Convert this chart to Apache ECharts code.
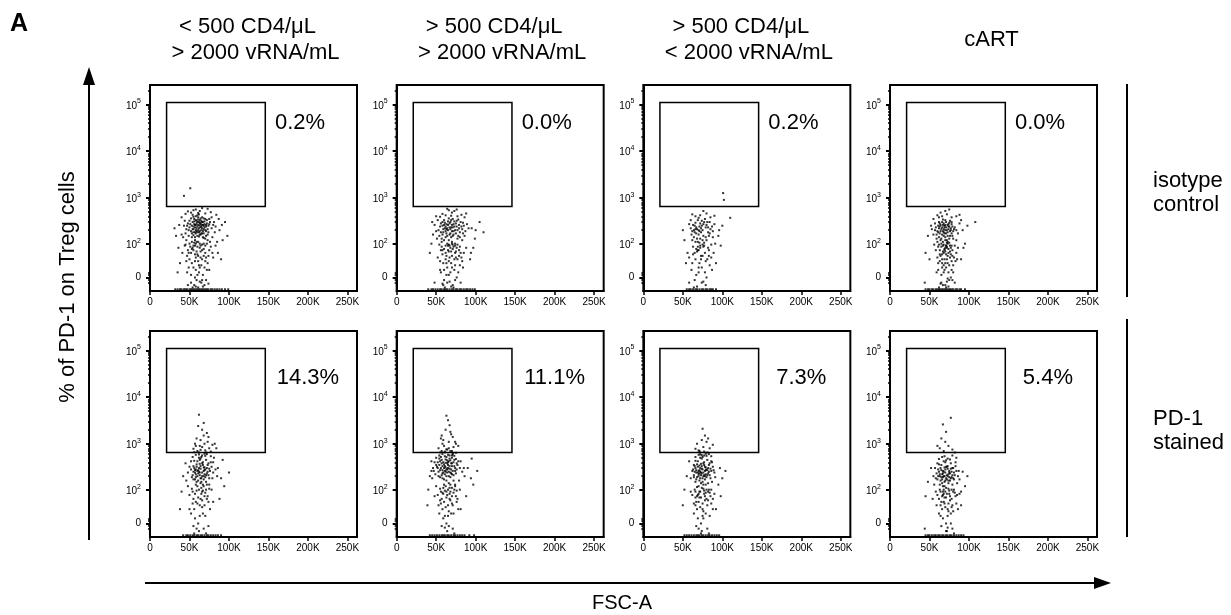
<!DOCTYPE html>
<html><head><meta charset="utf-8">
<script src="https://cdn.jsdelivr.net/npm/echarts@6.0.0/dist/echarts.min.js"></script>
<style>html,body{margin:0;padding:0;background:#fff}#c{width:1231px;height:615px}</style>
</head><body><div id="c"></div>
<script>
// ---------- data ----------
const columnTitles = [['< 500 CD4/μL', '> 2000 vRNA/mL'], ['> 500 CD4/μL', '> 2000 vRNA/mL'], ['> 500 CD4/μL', '< 2000 vRNA/mL'], ['cART']];
const rowLabels = [['isotype', 'control'], ['PD-1', 'stained']];
const yAxisTitle = '% of PD-1 on Treg cells';
const xAxisTitle = 'FSC-A';
const pctLabels = ['0.2%', '0.0%', '0.2%', '0.0%', '14.3%', '11.1%', '7.3%', '5.4%'];
const pctLabelFSC = [190000, 200000];     // per row
const pctLabelPD1 = [40700, 26300];       // per row
const fscTicks = [0, 50000, 100000, 150000, 200000, 250000];
const fscTickLabels = ['0', '50K', '100K', '150K', '200K', '250K'];
const fscRange = [0, 262144];
const pd1Ticks = [0, 100, 1000, 10000, 100000];
const pd1TickLabels = ['0', '10^2', '10^3', '10^4', '10^5'];
const pd1MinorTicks = [-10, -5, 5, 10, 200, 300, 400, 500, 600, 700, 800, 900, 2000, 3000, 4000, 5000, 6000, 7000, 8000, 9000, 20000, 30000, 40000, 50000, 60000, 70000, 80000, 90000, 200000];
const pd1Range = [-28, 262144];
const gateFSC = [21000, 146000];
const gatePD1 = [650, 110000];

// events: pairs of [FSC-A (K), PD-1 fluorescence]
const t1 = [55,210,62,180,68,250,59,320,71,150,64,290,50,230,57,140,66,380,73,210,
61,260,53,170,69,310,58,200,75,270,63,160,56,350,67,190,60,420,72,330,
48,280,65,240,54,300,70,130,62,220,58,260,66,170,52,190,74,180,61,340,
57,230,68,210,63,280,55,155,71,240,59,190,64,360,50,320,67,140,60,150,
76,300,53,250,65,200,58,400,69,270,62,300,56,270,73,160,61,200,66,260,
49,200,70,350,57,180,64,230,55,390,68,170,60,240,63,190,78,220,52,360,
59,280,67,300,54,210,71,190,62,145,65,320,58,170,74,250,56,310,69,230,
47,250,61,380,64,160,72,280,57,260,66,220,60,300,53,140,68,360,63,250,
80,260,51,270,59,220,70,200,62,440,55,240,67,260,45,170,75,350,58,330,
64,270,60,180,82,180,54,430,66,300,71,260,57,120,63,330,49,150,68,135,
52,480,63,520,70,460,58,560,45,450,77,490,66,600,55,540,61,470,84,430,48,510,73,580,
51,1600,43,1100,
58,100,63,80,52,60,70,90,66,40,55,20,61,110,48,70,74,50,57,0,
65,-10,53,30,68,75,60,55,45,95,72,15,59,-5,64,65,50,40,77,85,
56,105,62,25,69,-15,54,80,47,10,66,95,58,45,73,30,61,-20,55,70,
41,60,67,5,63,100,52,-10,70,60,57,35,80,45,60,85,49,20,65,25,
44,90,71,-5,59,65,53,110,68,50,62,10,75,70,56,-15,64,45,51,85,
38,30,66,70,58,15,72,100,54,-20,61,35,47,50,69,20,63,-8,57,90,
33,150,88,200,92,120,36,80,95,300,86,60,40,380,90,40,35,10,98,150,31,220,87,350,
42,140,46,210,44,320,79,140,83,240,85,110,78,380,46,120,43,250,81,300,
50,100,76,110,73,120,49,60,60,5,67,-18,53,75,71,45,57,55,63,20,
46,35,75,15,79,60,66,-5,52,5,59,110,68,100,55,90,61,50,70,35,
64,90,48,-15,58,-18,74,-12,83,90,40,160,37,260,91,260,55,180,65,170,
32,-24,38,-24,43,-24,47,-24,52,-24,56,-24,60,-24,64,-24,68,-24,72,-24,77,-24,82,-24,88,-24,95,-24,99,-24,35,-24,50,-24,62,-24,74,-24,85,-24,
40,-24,45,-24,54,-24,58,-24,66,-24,70,-24,79,-24,91,-24];

const t2 = [65,200,72,160,58,250,79,220,68,300,62,140,75,280,70,190,84,170,60,330,
66,120,73,240,56,180,81,300,69,230,63,270,77,130,59,210,71,350,67,160,
85,250,61,290,74,200,54,150,80,180,64,220,70,110,76,320,58,300,68,170,
72,270,62,190,78,150,66,360,55,240,83,210,69,140,60,260,74,100,65,310,
71,230,57,130,79,260,63,170,87,190,67,280,61,220,75,170,53,200,70,260,
64,150,82,240,59,180,73,310,68,210,77,200,62,240,66,95,56,280,80,140,
72,190,69,330,60,120,76,240,65,260,58,160,84,290,71,150,63,210,67,230,
62,420,70,480,77,400,58,450,66,540,82,430,73,520,55,390,88,460,64,580,69,410,76,560,
68,80,74,60,62,40,79,70,70,20,65,90,58,55,76,0,72,85,64,-10,
82,45,60,75,69,30,77,95,55,15,71,-15,66,65,80,25,63,50,74,-5,
57,85,68,10,85,60,61,-20,73,40,67,90,59,30,78,10,65,70,70,50,
52,45,76,80,63,5,81,-10,69,65,56,70,74,25,62,90,72,-20,66,35,
88,80,60,15,79,50,67,-8,54,95,71,75,64,20,83,35,58,-12,75,45,
46,160,95,220,99,130,42,60,93,40,105,300,45,300,97,80,48,-10,110,180,
50,190,48,260,52,330,86,150,89,270,91,220,57,110,83,120,51,130,78,340,
60,-5,66,5,71,95,63,30,75,65,58,70,80,85,69,-18,55,35,73,15,
62,60,77,40,67,45,84,20,59,-15,64,100,70,100,56,10,81,60,74,90,
44,100,94,60,100,200,50,400,86,380,
40,-24,46,-24,52,-24,57,-24,62,-24,67,-24,72,-24,77,-24,82,-24,88,-24,93,-24,99,-24,55,-24,70,-24,85,-24,
44,-24,49,-24,60,-24,64,-24,75,-24,80,-24,90,-24,96,-24];

const t3 = [70,200,76,150,65,250,82,180,72,280,68,130,79,230,62,190,74,320,85,210,
67,170,71,240,77,300,64,140,80,260,69,110,73,180,60,220,83,150,66,290,
75,200,70,160,78,350,63,260,87,240,68,210,72,130,81,300,65,180,74,250,
61,160,76,270,69,330,84,170,67,230,71,190,79,140,73,220,58,270,88,190,
66,210,75,120,70,370,82,230,64,200,
72,420,80,460,66,400,90,410,76,520,62,440,85,380,110,370,100,250,
101,1260,102,900,
72,80,78,60,66,40,83,70,70,20,75,95,63,55,80,0,69,85,74,-10,
86,45,67,75,71,30,77,90,61,15,79,-15,68,65,84,25,73,50,65,-5,
76,85,70,10,89,60,64,-20,81,40,72,90,62,30,78,10,69,70,75,50,
58,45,82,80,67,5,
52,120,95,150,56,60,92,30,50,200,98,90,
62,120,88,140,90,270,60,330,84,300,66,110,77,105,71,105,80,120,86,95,
68,-18,74,20,79,35,65,60,83,50,70,70,76,-8,87,15,63,85,73,40,
58,-10,91,100,96,200,54,30,
55,-24,60,-24,66,-24,71,-24,76,-24,81,-24,86,-24,92,-24,63,-24,74,-24,
58,-24,68,-24,79,-24,84,-24,88,-24];

const t4 = [68,180,73,150,62,220,77,200,70,260,65,130,75,240,71,170,80,190,63,280,
67,110,74,210,59,160,78,270,69,230,66,300,72,120,64,190,76,320,70,140,
82,230,61,250,73,180,57,200,79,150,68,210,71,90,75,290,63,170,69,250,
74,240,65,100,78,170,67,340,60,190,81,210,70,200,64,260,72,80,66,230,
76,190,62,140,79,240,68,150,84,200,71,300,65,210,73,110,58,230,70,120,
67,260,77,220,61,180,74,270,69,170,75,130,63,240,70,330,66,160,80,130,
72,200,68,280,64,120,78,300,71,230,59,130,76,150,67,190,73,260,62,300,
66,400,72,440,78,380,60,420,70,520,84,400,64,480,75,560,88,430,108,300,
70,80,74,60,66,40,79,70,71,20,68,95,63,55,77,0,72,85,65,-10,
81,45,69,75,73,30,76,90,61,15,70,-15,67,65,80,25,64,50,75,-5,
72,40,68,10,84,60,62,-20,78,35,71,90,66,30,74,10,69,70,73,50,
60,45,77,80,65,5,82,-10,70,65,58,70,75,25,67,90,71,-20,63,35,
86,80,69,15,79,50,72,-8,56,95,74,75,66,20,83,35,64,-12,76,45,
70,30,73,100,68,60,61,85,78,15,
48,150,92,200,95,100,45,60,90,40,52,250,98,250,44,-10,55,350,
55,160,57,280,86,170,88,280,84,120,60,110,82,90,53,210,90,330,62,380,
74,-18,67,-15,77,55,63,70,80,10,71,55,65,85,73,-2,69,40,61,30,
78,90,75,105,66,55,59,10,85,40,72,105,68,25,76,65,62,95,79,-5,
50,40,93,80,
45,-24,50,-24,55,-24,60,-24,64,-24,68,-24,72,-24,76,-24,80,-24,85,-24,90,-24,58,-24,66,-24,74,-24,
48,-24,53,-24,62,-24,70,-24,78,-24,83,-24,88,-24,95,-24];

const b1 = [62,250,68,200,56,300,73,350,65,180,60,420,70,280,58,220,76,260,64,330,
53,190,67,400,61,160,72,230,57,270,69,310,63,210,75,180,59,360,66,240,
71,450,55,250,64,290,78,320,60,200,68,260,62,500,74,210,57,170,66,380,
70,190,52,280,63,240,77,400,59,320,65,150,72,300,61,270,69,220,56,430,
67,350,73,250,58,190,64,480,80,240,62,300,70,550,55,330,66,200,75,290,
60,260,68,170,63,370,71,210,57,240,65,520,74,380,61,230,69,270,54,210,
58,580,66,560,72,600,62,590,77,540,54,520,69,610,81,500,
60,700,66,850,71,650,57,1000,64,1200,75,800,68,1500,62,650,79,950,55,780,
73,1100,66,2000,70,720,59,1300,77,680,63,900,72,1700,62,4200,61,2400,82,1000,
56,660,69,1000,74,1400,64,740,84,800,58,900,68,2800,
60,120,66,90,55,60,71,100,63,40,58,130,69,70,52,20,74,50,61,0,
65,110,57,80,68,-10,54,45,72,130,63,15,59,95,76,30,50,75,66,55,
62,-15,70,85,56,30,64,140,53,105,67,20,73,70,58,50,48,120,61,65,
78,100,55,-5,69,40,65,80,57,10,71,-20,
42,200,86,300,90,180,40,90,94,120,45,380,88,60,100,240,38,30,92,450,
48,240,50,320,46,160,83,280,85,200,79,180,80,400,52,420,75,130,67,130,
55,170,71,150,59,150,64,180,58,280,68,310,63,450,
59,-10,66,35,72,60,54,90,62,100,75,105,68,120,56,-20,60,45,70,15,64,60,
80,50,50,30,74,-5,67,95,
42,-24,48,-24,54,-24,59,-24,64,-24,69,-24,74,-24,80,-24,86,-24,51,-24,61,-24,72,-24,
46,-24,56,-24,66,-24,77,-24,83,-24,90,-24];

const b2 = [60,300,66,250,54,350,72,400,63,200,57,450,69,280,51,320,75,230,64,380,
58,180,70,500,47,260,67,330,61,220,74,300,55,270,78,420,62,460,68,190,
52,400,65,350,59,240,73,550,56,300,71,260,63,520,49,220,77,350,66,420,
60,170,69,380,54,480,64,280,58,330,72,210,62,390,67,560,53,250,80,300,
61,260,75,470,57,210,65,300,70,330,50,350,68,440,63,160,59,400,74,260,
56,520,66,200,71,590,60,360,64,240,55,190,76,380,62,310,69,230,58,270,
67,480,73,330,52,300,65,400,61,540,70,220,57,380,63,280,83,250,46,300,
58,600,65,580,71,620,61,650,68,700,54,560,75,640,63,760,57,700,70,560,
60,900,66,1100,72,850,56,1300,64,750,69,1600,62,2000,75,1000,59,1200,67,2500,
53,800,71,1400,65,3200,61,680,78,900,63,4000,58,1000,70,700,55,650,68,1800,
74,1100,57,1500,66,800,
62,120,68,90,57,60,73,100,65,40,60,130,70,70,54,20,76,50,63,0,
67,110,59,80,71,-10,56,45,74,130,65,15,61,95,78,30,52,75,68,55,
64,-15,72,85,58,30,66,140,55,105,69,20,75,70,60,50,50,120,63,65,
80,100,57,-5,71,40,67,80,59,10,73,-20,62,35,70,110,56,90,66,25,
64,75,61,-8,77,60,53,40,68,130,
42,200,90,300,94,180,40,100,97,130,44,420,88,70,102,260,39,40,95,480,
44,260,45,180,48,400,85,300,86,200,81,420,79,160,50,500,76,280,72,160,
55,420,62,250,67,290,58,230,64,440,70,380,61,330,68,240,73,450,53,200,
66,-5,72,20,59,110,63,90,76,95,55,55,70,45,61,15,67,60,58,85,
81,30,48,70,74,120,65,100,
42,-24,48,-24,54,-24,59,-24,64,-24,69,-24,74,-24,80,-24,86,-24,51,-24,61,-24,72,-24,92,-24,
45,-24,57,-24,66,-24,77,-24,83,-24,98,-24];

const b3 = [72,250,78,200,66,300,83,350,75,180,69,420,80,280,70,220,86,260,74,330,
64,190,77,400,71,160,82,230,67,270,79,310,73,210,85,180,68,360,76,240,
81,450,65,250,74,290,88,320,70,200,78,260,72,500,84,210,67,170,76,380,
80,190,63,280,73,240,87,400,69,320,75,150,82,300,71,270,79,220,66,430,
77,350,83,250,68,190,74,480,90,240,72,300,80,550,65,330,76,200,85,290,
70,260,78,170,73,370,81,210,67,240,75,520,84,380,71,230,79,270,64,210,
76,130,70,120,82,140,68,115,74,110,
70,580,77,560,83,600,72,590,86,540,66,520,79,610,74,570,
71,700,76,850,81,650,68,1000,74,1200,84,800,78,1500,72,650,88,950,66,780,
80,1100,75,2100,70,720,82,1300,77,680,
72,90,78,70,67,50,83,100,75,30,70,80,80,60,64,20,86,45,73,0,
77,95,69,75,81,-10,66,40,84,85,75,15,71,65,88,30,62,75,78,55,
74,-15,82,90,68,30,76,105,65,100,79,20,85,70,70,50,60,90,73,65,
90,80,67,-5,81,40,77,80,69,10,83,-20,72,35,80,100,66,90,76,25,
55,200,97,300,100,180,52,100,95,130,58,420,98,70,104,260,50,40,
62,260,64,350,60,180,89,270,91,190,87,150,86,420,66,150,73,140,79,130,
69,240,75,280,71,340,77,210,81,270,72,180,78,320,74,230,
70,-10,76,10,82,55,68,70,86,100,64,45,79,85,73,-20,88,60,71,90,
84,15,66,65,75,45,92,30,
52,-24,58,-24,64,-24,69,-24,74,-24,79,-24,84,-24,90,-24,96,-24,61,-24,71,-24,82,-24,
55,-24,67,-24,76,-24,87,-24,93,-24];

const b4 = [68,200,74,160,62,250,79,300,71,180,65,350,76,230,66,140,82,210,70,280,
60,170,73,330,67,120,78,190,63,220,75,260,69,150,81,170,64,300,72,210,
77,380,61,200,70,240,84,260,66,170,74,220,68,420,80,180,63,130,72,320,
76,160,59,230,69,200,83,330,65,270,71,110,78,250,67,230,75,190,62,360,
73,290,79,210,64,160,70,400,86,200,68,250,76,460,61,280,72,170,81,240,
66,220,74,140,69,310,77,180,63,200,71,440,80,300,67,190,75,240,58,180,
66,520,73,480,79,560,69,540,84,500,62,470,
68,700,74,900,65,1300,79,750,71,1800,63,800,77,3600,70,1100,82,650,67,2600,60,900,
70,90,76,70,65,50,81,100,73,30,68,80,78,60,62,20,84,45,71,0,
75,95,67,75,79,-10,64,40,82,85,73,15,69,65,86,30,60,75,76,55,
72,-15,80,90,66,30,74,105,63,100,77,20,83,70,68,50,58,90,71,65,
88,80,65,-5,79,40,75,80,67,10,81,-20,70,35,78,100,64,90,74,25,
69,45,73,-8,66,70,
48,150,92,250,95,120,45,70,90,40,52,300,98,200,44,-10,
55,200,57,300,56,130,87,260,88,170,85,140,83,400,60,380,79,130,70,160,
73,200,67,260,71,320,65,190,77,290,69,120,
71,-15,77,0,62,60,85,75,67,90,74,45,80,25,64,15,72,80,59,40,
90,90,78,35,68,100,54,60,
45,-24,50,-24,56,-24,61,-24,66,-24,71,-24,76,-24,81,-24,87,-24,93,-24,58,-24,68,-24,78,-24,
48,-24,53,-24,63,-24,73,-24,84,-24,90,-24];

const panels = [t1, t2, t3, t4, b1, b2, b3, b4];

// ---------- logicle-like display transform ----------
const LT0 = 1.29, LC = 19.5;
const f = v => LT0 + Math.asinh(v / (2 * LC)) / Math.LN10;
const toPts = a => { const o = []; for (let i = 0; i < a.length; i += 2) o.push([a[i] * 1000, f(a[i + 1])]); return o; };

const FONT = 'Liberation Sans, Arial, Helvetica, sans-serif';
const pd1Disp = pd1Ticks.map(f);
const pd1MinorDisp = pd1MinorTicks.map(f);

const grids = [], xAxes = [], yAxes = [], series = [];
for (let r = 0; r < 2; r++) {
  for (let c = 0; c < 4; c++) {
    const i = r * 4 + c;
    grids.push({ left: 150 + c * 246.67, top: r ? 331 : 85, width: 207, height: 206,
      show: true, borderColor: '#000', borderWidth: 2, backgroundColor: '#fff' });
    xAxes.push({ type: 'value', gridIndex: i, min: fscRange[0], max: fscRange[1],
      axisLine: { lineStyle: { color: '#000', width: 2 } },
      axisTick: { customValues: fscTicks, length: 4, lineStyle: { color: '#000', width: 1.5 } },
      axisLabel: { customValues: fscTicks, formatter: v => fscTickLabels[fscTicks.indexOf(v)],
        fontSize: 10, color: '#000', fontFamily: FONT, margin: 6 },
      splitLine: { show: false } });
    yAxes.push({ type: 'value', gridIndex: i, position: 'left', min: f(pd1Range[0]), max: f(pd1Range[1]),
      axisLine: { lineStyle: { color: '#000', width: 2 } },
      axisTick: { customValues: pd1Disp, length: 4, lineStyle: { color: '#000', width: 2 } },
      axisLabel: { customValues: pd1Disp, margin: 9, color: '#000',
        formatter: v => {
          const k = pd1Disp.findIndex(d => Math.abs(d - v) < 1e-6);
          const p = (pd1TickLabels[k] || '').split('^');
          return p.length > 1 ? '{b|' + p[0] + '}{s|' + p[1] + '}' : '{b|' + p[0] + '}';
        },
        rich: { b: { fontSize: 10, fontFamily: FONT, color: '#000', verticalAlign: 'bottom' },
                s: { fontSize: 7, fontFamily: FONT, color: '#000', verticalAlign: 'bottom', padding: [0, 0, 6, 0] } } },
      splitLine: { show: false } });
    yAxes.push({ type: 'value', gridIndex: i, position: 'left', offset: 0, min: f(pd1Range[0]), max: f(pd1Range[1]),
      axisLine: { show: false },
      axisTick: { customValues: pd1MinorDisp, length: 2, lineStyle: { color: '#000', width: 1.5 } },
      axisLabel: { show: false }, splitLine: { show: false } });
    series.push({ type: 'scatter', xAxisIndex: i, yAxisIndex: i * 2, data: toPts(panels[i]),
      symbol: 'rect', symbolSize: 2, itemStyle: { color: '#000' }, silent: true, animation: false,
      markArea: { silent: true, label: { show: false },
        itemStyle: { color: 'rgba(0,0,0,0)', borderColor: '#000', borderWidth: 1.5 },
        data: [[{ coord: [gateFSC[0], f(gatePD1[0])] }, { coord: [gateFSC[1], f(gatePD1[1])] }]] } });
    series.push({ type: 'scatter', xAxisIndex: i, yAxisIndex: i * 2, silent: true, animation: false,
      data: [[pctLabelFSC[r], f(pctLabelPD1[r])]], symbolSize: 0, itemStyle: { color: '#000', opacity: 1 },
      label: { show: true, position: 'inside', formatter: pctLabels[i], fontSize: 22, color: '#000',
        opacity: 1, textBorderWidth: 0, fontFamily: FONT } });
  }
}

// ---------- annotation graphics ----------
const g = [];
const txt = (text, x, y, opt) => g.push(Object.assign({ type: 'text', x: x, y: y,
  style: Object.assign({ text: text, font: '22px ' + FONT, fill: '#000', align: 'center', verticalAlign: 'middle' }, (opt || {}).style || {}) },
  (opt || {}).el || {}));
txt('A', 10, 24, { style: { font: 'bold 25px ' + FONT, align: 'left' } });
columnTitles.forEach((t, c) => {
  const cx = 150 + c * 246.67 + 103.5;
  if (t.length === 1) txt(t[0], cx - 2, 40);
  else { txt(t[0], cx - 6, 27); txt(t[1], cx + 2, 53); }
});
rowLabels.forEach((t, r) => {
  const cy = r ? 431 : 193;
  txt(t[0], 1153, cy - 12, { style: { align: 'left' } });
  txt(t[1], 1153, cy + 12, { style: { align: 'left' } });
});
g.push({ type: 'line', shape: { x1: 1127, y1: 84, x2: 1127, y2: 297 }, style: { stroke: '#000', lineWidth: 2 } });
g.push({ type: 'line', shape: { x1: 1127, y1: 319, x2: 1127, y2: 537 }, style: { stroke: '#000', lineWidth: 2 } });
// left arrow
g.push({ type: 'line', shape: { x1: 89, y1: 540, x2: 89, y2: 82 }, style: { stroke: '#000', lineWidth: 2 } });
g.push({ type: 'polygon', shape: { points: [[89, 67], [83, 85], [95, 85]] }, style: { fill: '#000' } });
txt(yAxisTitle, 68, 287, { el: { rotation: Math.PI / 2 } });
// bottom arrow
g.push({ type: 'line', shape: { x1: 145, y1: 583, x2: 1096, y2: 583 }, style: { stroke: '#000', lineWidth: 2 } });
g.push({ type: 'polygon', shape: { points: [[1111, 583], [1094, 577], [1094, 589]] }, style: { fill: '#000' } });
txt(xAxisTitle, 622, 603, { style: { font: '20px ' + FONT } });

const chart = echarts.init(document.getElementById('c'), null, { renderer: 'canvas' });
chart.setOption({ animation: false, backgroundColor: '#fff', grid: grids, xAxis: xAxes, yAxis: yAxes, series: series, graphic: g });
</script>
</body></html>
